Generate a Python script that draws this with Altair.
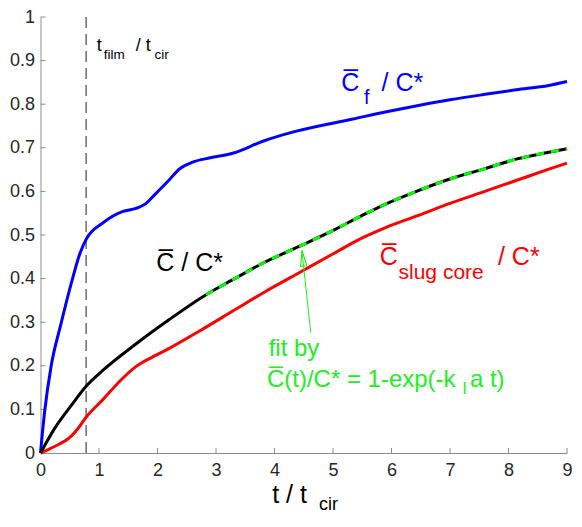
import altair as alt
import pandas as pd

# ---------------- data ----------------
blue_t = [0, 0.07, 0.18, 0.35, 0.52, 0.68, 0.78, 1.07, 1.41, 1.63, 1.80, 1.95, 2.17, 2.38, 2.6, 2.9, 3.3, 3.8, 4.34, 5.34, 6.0, 6.46, 7.0, 7.57, 8.13, 8.69, 9.0]
blue_c = [0, 0.094, 0.198, 0.296, 0.386, 0.46, 0.49, 0.528, 0.554, 0.561, 0.572, 0.592, 0.622, 0.652, 0.667, 0.677, 0.688, 0.715, 0.737, 0.766, 0.785, 0.797, 0.810, 0.822, 0.833, 0.843, 0.852]

black_t = [0, 0.24, 0.52, 0.78, 1.07, 1.63, 2.19, 2.83, 3.28, 3.84, 4.39, 4.95, 5.5, 5.9, 6.46, 7.01, 7.57, 8.13, 8.69, 9.0]
black_c = [0, 0.056, 0.108, 0.153, 0.19, 0.25, 0.305, 0.363, 0.397, 0.438, 0.472, 0.507, 0.545, 0.571, 0.602, 0.629, 0.651, 0.674, 0.690, 0.698]

red_t = [0, 0.24, 0.52, 0.65, 0.78, 1.07, 1.35, 1.63, 1.91, 2.2, 2.72, 3.28, 3.84, 4.39, 4.95, 5.51, 5.9, 6.46, 7.01, 7.57, 8.13, 8.69, 9.0]
red_c = [0, 0.015, 0.038, 0.058, 0.082, 0.123, 0.164, 0.198, 0.22, 0.24, 0.28, 0.325, 0.37, 0.411, 0.453, 0.494, 0.517, 0.545, 0.573, 0.599, 0.625, 0.651, 0.665]

fit_t = [2.83, 3.28, 3.84, 4.39, 4.95, 5.5, 5.9, 6.46, 7.01, 7.57, 8.13, 8.69, 9.0]
fit_c = [0.363, 0.397, 0.438, 0.472, 0.507, 0.545, 0.571, 0.602, 0.629, 0.651, 0.674, 0.690, 0.698]

t_film = 0.78
x_ticks = [0, 1, 2, 3, 4, 5, 6, 7, 8, 9]
y_ticks = [0, 0.1, 0.2, 0.3, 0.4, 0.5, 0.6, 0.7, 0.8, 0.9, 1]

# annotation texts: position in data units, text, font size, colour
OL = "C\u0305"
ann_text = ["t", "film", "/ t", "cir",
            OL, "f", "/ C*",
            OL + " / C*",
            OL, "slug core", "/ C*",
            "fit by", OL + "(t)/C* = 1-exp(-k", "l", "a t)",
            "t / t", "cir"]
ann_x = [0.96, 1.08, 1.63, 1.95,
         5.14, 5.53, 5.83,
         1.98,
         5.80, 6.12, 7.82,
         3.90, 3.87, 7.22, 7.34,
         3.96, 4.76]
ann_y = [0.921, 0.904, 0.921, 0.904,
         0.831, 0.800, 0.831,
         0.418,
         0.431, 0.400, 0.431,
         0.222, 0.152, 0.136, 0.152,
         -0.115, -0.131]
ann_size = [18, 13.5, 18, 13.5,
            25, 20, 25,
            25,
            25, 21, 25,
            24, 24, 17, 24,
            25, 18]
ann_color = ["#000000"] * 4 + ["#0000ff"] * 3 + ["#000000"] + ["#ff0000"] * 3 + ["#22ee22"] * 4 + ["#000000"] * 2

arrow_tail = (4.62, 0.276)
arrow_tip = (4.47, 0.462)
arrow_head = (4.485, 0.447)

# ---------------- build tables ----------------
def table(t, c):
    return pd.DataFrame({"x": t, "y": c})

blue_df = table(blue_t, blue_c)
black_df = table(black_t, black_c)
red_df = table(red_t, red_c)
fit_df = table(fit_t, fit_c)
ann_df = pd.DataFrame({"x": ann_x, "y": ann_y, "text": ann_text, "fs": ann_size, "col": ann_color})

FONT = "Liberation Sans"
xs = alt.Scale(domain=[0, 9], nice=False, zero=False)
ys = alt.Scale(domain=[0, 1], nice=False, zero=False)
xaxis = alt.Axis(values=x_ticks, format="d", grid=False, ticks=False, tickSize=0,
                 domainColor="#8c8c8c", labelColor="#262626", labelFont=FONT,
                 labelFontSize=18, labelPadding=8, labelFlush=False, labelOverlap=False, title=None)
yaxis = alt.Axis(values=y_ticks, format="~g", grid=False, ticks=False, tickSize=0,
                 domainColor="#8c8c8c", labelColor="#262626", labelFont=FONT,
                 labelFontSize=18, labelPadding=6, labelFlush=False, labelOverlap=False, title=None)
X = alt.X("x:Q", scale=xs, axis=xaxis)
Y = alt.Y("y:Q", scale=ys, axis=yaxis)

W, H = 526.5, 436

def curve(df, color, **kw):
    return alt.Chart(df).mark_line(color=color, strokeWidth=3, interpolate="monotone", **kw).encode(x=X, y=Y)

vline = alt.Chart(pd.DataFrame({"x": [t_film], "y": [0], "y2": [1]})).mark_rule(
    color="#555555", strokeWidth=1.3, strokeDash=[11, 6]).encode(x=X, y=Y, y2="y2:Q")

xt = alt.Chart(pd.DataFrame({"x": x_ticks[1:]})).mark_rule(color="#8c8c8c", strokeWidth=1).encode(
    x=X, y=alt.value(H), y2=alt.value(H - 5))
yt = alt.Chart(pd.DataFrame({"y": y_ticks[1:]})).mark_rule(color="#8c8c8c", strokeWidth=1).encode(
    y=Y, x=alt.value(0), x2=alt.value(5))

arrow = alt.Chart(pd.DataFrame({"x": [arrow_tail[0]], "y": [arrow_tail[1]],
                                "x2": [arrow_tip[0]], "y2": [arrow_tip[1]]})).mark_rule(
    color="#22ee22", strokeWidth=1).encode(x=X, y=Y, x2="x2:Q", y2="y2:Q")
head = alt.Chart(pd.DataFrame({"x": [arrow_head[0]], "y": [arrow_head[1]]})).mark_point(
    shape="M0,-1L0.38,1L-0.38,1Z", size=260, angle=354, filled=False,
    color="#22ee22", strokeWidth=1.2, opacity=1).encode(x=X, y=Y)

texts = alt.Chart(ann_df).mark_text(align="left", baseline="alphabetic", font=FONT).encode(
    x=X, y=Y, text="text:N",
    size=alt.Size("fs:Q", scale=None, legend=None),
    color=alt.Color("col:N", scale=None, legend=None))

chart = alt.layer(
    xt, yt, vline,
    curve(blue_df, "#0000ff"),
    curve(red_df, "#ff0000"),
    curve(black_df, "#000000"),
    curve(fit_df, "#00ff00", strokeDash=[8, 7]),
    arrow, head, texts
).properties(
    width=W, height=H,
    autosize=alt.AutoSizeParams(type="none"),
    padding={"left": 32.5, "top": 9, "right": 6, "bottom": 61},
).configure_view(stroke=None)

chart.save("out.html", embed_options={"renderer": "svg", "actions": False})
